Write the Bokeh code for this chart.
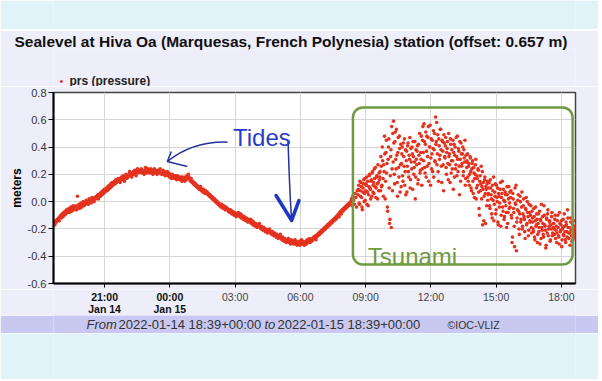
import pandas as pd
from bokeh.plotting import figure
from bokeh.models import Range1d, FixedTicker, PrintfTickFormatter, Label, BoxAnnotation
from bokeh.layouts import column
from bokeh.embed import file_html
from bokeh.resources import INLINE

# ---------------- data (sea level, metres) -------------
start_time = "2022-01-14 18:39"
end_time = "2022-01-15 18:39"
odd_start = "2022-01-15 08:40"   # extra interleaved readings during the tsunami

# even readings, every 2 minutes from 18:39, one list per hour
h00 = [-0.16,-0.15,-0.17,-0.14,-0.15,-0.13,-0.14,-0.12,-0.14,-0.11,-0.10,-0.12,-0.09,-0.11,-0.08,-0.10,-0.07,-0.09,-0.06,-0.08,-0.07,-0.05,-0.08,-0.06,-0.04,-0.07,-0.05,-0.03,-0.06,-0.04]
h01 = [-0.05,-0.03,-0.06,0.04,-0.04,-0.02,-0.05,-0.03,-0.01,-0.04,-0.02,0.00,-0.03,-0.01,-0.02,0.01,-0.01,0.00,-0.02,0.02,0.00,0.01,-0.01,0.03,0.01,0.02,0.00,0.03,0.02,0.04]
h02 = [0.03,0.05,0.02,0.04,0.06,0.04,0.07,0.05,0.08,0.06,0.09,0.07,0.08,0.10,0.08,0.11,0.09,0.12,0.10,0.13,0.11,0.14,0.12,0.13,0.15,0.13,0.16,0.14,0.15,0.17]
h03 = [0.15,0.17,0.14,0.16,0.18,0.16,0.19,0.17,0.15,0.18,0.20,0.17,0.19,0.18,0.20,0.22,0.19,0.21,0.18,0.20,0.22,0.20,0.23,0.21,0.19,0.22,0.24,0.21,0.23,0.22]
h04 = [0.22,0.24,0.21,0.23,0.22,0.20,0.23,0.25,0.22,0.21,0.24,0.22,0.23,0.21,0.24,0.22,0.23,0.20,0.22,0.24,0.21,0.23,0.22,0.20,0.23,0.21,0.22,0.24,0.21,0.20]
h05 = [0.21,0.23,0.20,0.22,0.19,0.21,0.20,0.22,0.19,0.21,0.18,0.20,0.19,0.17,0.20,0.18,0.19,0.17,0.19,0.18,0.16,0.19,0.17,0.18,0.16,0.18,0.17,0.15,0.18,0.16]
h06 = [0.17,0.15,0.18,0.16,0.19,0.17,0.20,0.18,0.16,0.15,0.17,0.14,0.15,0.13,0.14,0.12,0.13,0.11,0.12,0.10,0.11,0.09,0.10,0.11,0.08,0.09,0.07,0.09,0.08,0.06]
h07 = [0.08,0.06,0.07,0.05,0.06,0.04,0.05,0.03,0.04,0.02,0.03,0.01,0.02,0.00,0.01,-0.01,0.00,-0.02,-0.01,-0.03,-0.02,-0.04,-0.02,-0.03,-0.05,-0.03,-0.04,-0.06,-0.04,-0.05]
h08 = [-0.05,-0.07,-0.06,-0.08,-0.06,-0.07,-0.09,-0.07,-0.08,-0.10,-0.08,-0.09,-0.11,-0.09,-0.10,-0.08,-0.10,-0.11,-0.09,-0.12,-0.10,-0.11,-0.13,-0.11,-0.12,-0.14,-0.12,-0.13,-0.15,-0.13]
h09 = [-0.14,-0.15,-0.13,-0.16,-0.14,-0.17,-0.15,-0.16,-0.18,-0.16,-0.17,-0.19,-0.17,-0.18,-0.16,-0.19,-0.20,-0.18,-0.19,-0.21,-0.19,-0.20,-0.22,-0.20,-0.21,-0.23,-0.21,-0.22,-0.20,-0.23]
h10 = [-0.22,-0.24,-0.22,-0.23,-0.25,-0.23,-0.24,-0.26,-0.24,-0.25,-0.27,-0.25,-0.26,-0.24,-0.27,-0.28,-0.26,-0.27,-0.29,-0.27,-0.28,-0.30,-0.28,-0.29,-0.27,-0.30,-0.29,-0.31,-0.28,-0.30]
h11 = [-0.29,-0.31,-0.30,-0.28,-0.31,-0.29,-0.32,-0.30,-0.31,-0.29,-0.32,-0.30,-0.28,-0.31,-0.29,-0.30,-0.32,-0.30,-0.29,-0.31,-0.28,-0.30,-0.29,-0.27,-0.30,-0.28,-0.29,-0.27,-0.28,-0.26]
h12 = [-0.27,-0.25,-0.28,-0.26,-0.24,-0.25,-0.23,-0.24,-0.22,-0.23,-0.21,-0.22,-0.20,-0.21,-0.19,-0.20,-0.18,-0.19,-0.17,-0.18,-0.16,-0.17,-0.15,-0.16,-0.14,-0.15,-0.13,-0.14,-0.12,-0.13]
h13 = [-0.11,-0.12,-0.10,-0.09,-0.11,-0.08,-0.07,-0.09,-0.06,-0.07,-0.05,-0.06,-0.04,-0.05,-0.03,-0.04,-0.02,-0.03,-0.01,-0.02,0.00,0.02,-0.03,0.04,0.01,-0.02,0.06,0.03,-0.04,0.08]
h14 = [0.05,0.12,-0.02,0.08,0.14,0.03,-0.06,0.10,0.16,0.06,0.01,0.13,0.18,0.07,-0.03,0.11,0.20,0.09,0.15,0.04,0.22,0.12,0.06,0.17,0.25,0.10,0.19,0.02,0.14,0.21]
h15 = [0.18,0.08,0.26,0.12,0.30,0.04,0.22,0.35,0.15,0.45,0.28,-0.07,0.40,0.10,-0.13,0.33,-0.19,0.24,0.50,0.59,0.20,0.44,0.31,0.53,0.14,0.36,0.25,0.48,0.07,0.42]
h16 = [0.28,0.40,0.15,0.33,0.46,0.22,0.05,0.37,0.26,0.43,0.18,0.31,0.10,0.39,0.24,0.35,0.44,0.20,0.29,0.02,0.38,0.27,0.41,0.16,0.34,0.50,0.23,0.31,0.12,0.45]
h17 = [0.36,0.57,0.25,0.42,0.18,0.48,0.33,0.55,0.28,0.40,0.12,0.46,0.35,0.22,0.52,0.38,0.30,0.62,0.44,0.27,0.49,0.15,0.41,0.34,0.53,0.26,0.45,0.37,0.08,0.43]
h18 = [0.32,0.47,0.20,0.39,0.28,0.50,0.35,0.14,0.42,0.30,0.24,0.45,0.36,0.18,0.40,0.27,0.33,0.48,0.22,0.37,0.05,0.31,0.43,0.26,0.35,0.19,0.38,0.29,0.12,0.34]
h19 = [0.25,0.35,0.15,0.28,0.20,0.32,0.10,0.24,0.30,0.06,0.21,0.17,0.27,0.02,0.19,0.12,0.23,-0.05,0.15,0.08,0.26,0.11,-0.17,0.14,0.04,0.18,-0.16,0.09,0.13,0.01]
h20 = [0.06,0.14,-0.05,0.10,0.02,-0.12,0.08,0.18,-0.02,0.04,-0.09,0.12,0.00,-0.15,0.06,-0.04,0.09,-0.18,0.03,0.15,-0.07,0.01,-0.11,0.07,-0.03,-0.19,0.05,-0.08,0.11,-0.01]
h21 = [-0.04,0.08,-0.12,-0.26,0.02,-0.08,-0.33,-0.01,0.12,-0.15,-0.06,0.05,-0.20,-0.09,0.00,-0.13,0.07,-0.18,-0.03,-0.11,-0.22,-0.05,0.03,-0.16,-0.08,-0.25,-0.02,-0.14,-0.10,-0.19]
h22 = [-0.07,-0.15,-0.22,-0.11,-0.28,-0.04,-0.17,-0.13,-0.24,-0.09,-0.19,-0.31,-0.14,-0.02,-0.21,-0.16,-0.26,-0.10,-0.18,-0.34,-0.12,-0.23,-0.06,-0.20,-0.15,-0.29,-0.17,-0.11,-0.25,-0.19]
h23 = [-0.16,-0.24,-0.10,-0.21,-0.30,-0.14,-0.19,-0.26,-0.08,-0.22,-0.17,-0.33,-0.20,-0.13,-0.25,-0.18,-0.28,-0.15,-0.22,-0.06,-0.19,-0.27,-0.23,-0.12,-0.21,-0.29,-0.17,-0.24,-0.20,-0.26]

# odd readings during the tsunami, every 2 minutes from 08:40
o14 = [0.09,-0.01,0.15,0.04,0.11,-0.04,0.07,0.13,0.00,0.17,0.08,0.12,-0.02,0.15,0.05,0.19,0.10,0.02,0.16,0.21,0.07,0.14,0.24,0.11,0.03,0.18,0.13,0.27,0.08,0.16]
o15 = [0.22,0.33,0.11,0.40,0.17,0.27,0.48,0.02,0.36,0.21,-0.04,0.31,0.46,-0.16,0.19,0.38,0.55,0.08,0.29,0.43,0.13,0.51,0.24,0.34,0.04,0.47,0.18,0.39,0.27,0.11]
o16 = [0.35,0.19,0.43,0.26,0.12,0.38,0.30,0.07,0.41,0.22,0.34,0.47,0.16,0.29,0.40,0.09,0.33,0.25,0.44,0.18,0.31,0.37,0.13,0.42,0.28,0.21,0.36,0.48,0.24,0.55]
o17 = [0.30,0.44,0.21,0.51,0.37,0.26,0.47,0.15,0.40,0.56,0.32,0.24,0.45,0.39,0.18,0.50,0.29,0.42,0.58,0.35,0.22,0.46,0.31,0.53,0.38,0.14,0.44,0.27,0.49,0.33]
o18 = [0.41,0.25,0.36,0.44,0.16,0.33,0.27,0.46,0.21,0.38,0.30,0.09,0.42,0.34,0.24,0.47,0.19,0.31,0.39,0.26,0.44,0.15,0.35,0.28,0.40,0.22,0.32,0.45,0.17,0.29]
o19 = [0.30,0.18,0.26,0.12,0.33,0.22,0.08,0.28,0.15,0.25,0.03,0.20,0.31,0.10,0.17,0.24,0.07,-0.10,0.19,0.13,0.02,0.22,0.09,-0.14,0.16,0.06,0.11,-0.03,0.15,0.05]
o20 = [0.10,-0.03,0.16,0.05,-0.09,0.12,0.01,-0.14,0.07,0.13,-0.06,0.03,0.10,-0.17,0.04,-0.01,0.14,-0.10,0.06,-0.04,0.09,-0.13,0.00,0.05,-0.08,0.11,-0.16,0.02,-0.05,0.07]
o21 = [0.03,-0.10,-0.30,0.06,-0.05,-0.18,0.10,-0.02,-0.36,-0.12,0.01,-0.07,-0.24,0.04,-0.15,-0.04,-0.20,-0.09,0.02,-0.13,-0.27,-0.06,-0.17,0.00,-0.11,-0.21,-0.08,-0.15,-0.03,-0.23]
o22 = [-0.12,-0.20,-0.05,-0.26,-0.14,-0.18,-0.09,-0.30,-0.16,-0.22,-0.07,-0.13,-0.27,-0.19,-0.11,-0.24,-0.03,-0.17,-0.21,-0.32,-0.13,-0.09,-0.25,-0.18,-0.14,-0.28,-0.20,-0.08,-0.23,-0.16]
o23 = [-0.20,-0.13,-0.27,-0.18,-0.23,-0.10,-0.25,-0.31,-0.16,-0.21,-0.14,-0.28,-0.19,-0.24,-0.09,-0.22,-0.30,-0.17,-0.26,-0.12,-0.23,-0.19,-0.32,-0.15,-0.25,-0.20,-0.28,-0.14,-0.22,-0.18]

y_ticks = [-0.6, -0.4, -0.2, 0.0, 0.2, 0.4, 0.6, 0.8]
tick_times = ["2022-01-14 21:00", "2022-01-15 00:00", "2022-01-15 03:00", "2022-01-15 06:00",
              "2022-01-15 09:00", "2022-01-15 12:00", "2022-01-15 15:00", "2022-01-15 18:00"]
tick_labels = ["21:00", "00:00", "03:00", "06:00", "09:00", "12:00", "15:00", "18:00"]
date_labels = ["Jan 14", "Jan 15", "", "", "", "", "", ""]

title_text = "Sealevel at Hiva Oa (Marquesas, French Polynesia) station (offset: 0.657 m)"
series_name = "prs (pressure)"
footer_parts = [("From", "italic"), ("2022-01-14 18:39+00:00", "normal"),
                ("to", "italic"), ("2022-01-15 18:39+00:00", "normal"),
                ("\u00a9IOC-VLIZ", "small")]

# ---------------- styling / layout ----------------
W = 598
BL, BR = 53, 23          # frame borders shared by every row (frame x: 53..575)
CYAN = "#e0f3f8"
PANEL = "#eeeefa"
BAND = "#c8c8f0"
RED = "#e4321f"
BLUE = "#2a3cc8"
NAVY = "#23329c"
GREEN = "#6f9a40"
FONT = "Liberation Sans"


def ms(s):
    return pd.Timestamp(s).value / 1e6


def bare(h, color, **kw):
    f = figure(width=W, height=h, toolbar_location=None, output_backend="svg",
               x_axis_location=None, y_axis_location=None,
               min_border_left=BL, min_border_right=BR, **kw)
    f.grid.visible = False
    f.outline_line_color = None
    f.background_fill_color = color
    f.border_fill_color = color
    return f


even_blocks = [h00, h01, h02, h03, h04, h05, h06, h07, h08, h09, h10, h11,
               h12, h13, h14, h15, h16, h17, h18, h19, h20, h21, h22, h23]
odd_blocks = [o14, o15, o16, o17, o18, o19, o20, o21, o22, o23]
even_vals = [v for b in even_blocks for v in b]
odd_vals = [v for b in odd_blocks for v in b]
times = list(pd.date_range(start_time, periods=len(even_vals), freq="2min")) + \
        list(pd.date_range(odd_start, periods=len(odd_vals), freq="2min"))
values = even_vals + odd_vals
xr = Range1d(ms(start_time), ms(end_time))

# ---- top cyan strip and the panel's dark top edge
top = bare(29, CYAN, x_range=Range1d(0, 1), y_range=Range1d(0, 1),
           min_border_top=0, min_border_bottom=0)
edge = bare(1, "#555555", x_range=Range1d(0, 1), y_range=Range1d(0, 1),
            min_border_top=0, min_border_bottom=0)

# ---- header: title + legend
hdr = bare(56, PANEL, x_range=Range1d(0, 1), y_range=Range1d(0, 1),
           min_border_top=0, min_border_bottom=0, title=title_text)
hdr.title.align = "left"
hdr.title.offset = -39
hdr.title.standoff = 0
hdr.title.padding = 0
hdr.title.text_font = FONT
hdr.title.text_font_size = "15.5px"
hdr.title.text_font_style = "bold"
hdr.title.text_color = "#111111"
hdr.add_layout(Label(x=8, y=6, x_units="screen", y_units="screen", text="\u2022",
                     text_align="center", text_baseline="middle", text_font=FONT,
                     text_font_size="11px", text_color=RED))
hdr.add_layout(Label(x=16, y=6, x_units="screen", y_units="screen", text=series_name,
                     text_align="left", text_baseline="middle", text_font=FONT,
                     text_font_size="12px", text_font_style="bold", text_color="#222222"))

# ---- main plot
p = figure(width=W, height=203, x_axis_type="datetime", x_range=xr,
           y_range=Range1d(-0.6, 0.8), toolbar_location=None, output_backend="svg",
           min_border_left=BL, min_border_right=BR, min_border_top=6, min_border_bottom=6)
p.background_fill_color = "white"
p.border_fill_color = PANEL
p.outline_line_color = "#444444"
p.outline_line_width = 1.5

p.xaxis.ticker = FixedTicker(ticks=[ms(t) for t in tick_times])
p.xaxis.major_label_text_font_size = "1px"
p.xaxis.major_label_text_color = None
p.xaxis.major_label_standoff = 0
p.xaxis.axis_line_width = 2
p.xaxis.axis_line_color = "black"
p.xaxis.major_tick_out = 4
p.xaxis.major_tick_in = 0
p.xaxis.minor_tick_out = 0
p.xaxis.minor_tick_in = 0
p.xaxis.major_tick_line_color = "black"

p.yaxis.ticker = FixedTicker(ticks=y_ticks)
p.yaxis.formatter = PrintfTickFormatter(format="%.1f")
p.yaxis.axis_line_width = 2
p.yaxis.axis_line_color = "black"
p.yaxis.major_tick_out = 5
p.yaxis.major_tick_in = 0
p.yaxis.minor_tick_out = 0
p.yaxis.minor_tick_in = 0
p.yaxis.major_tick_line_color = "black"
p.yaxis.major_label_standoff = 2
p.yaxis.major_label_text_font = FONT
p.yaxis.major_label_text_font_size = "11px"
p.yaxis.major_label_text_color = "#333333"
p.yaxis.axis_label = "meters"
p.yaxis.axis_label_text_font = FONT
p.yaxis.axis_label_text_font_style = "bold"
p.yaxis.axis_label_text_font_size = "12px"
p.yaxis.axis_label_text_color = "black"
p.yaxis.axis_label_standoff = 1

p.xgrid.grid_line_color = "#d6d6d6"
p.ygrid.grid_line_color = "#d6d6d6"

p.scatter(x=times, y=values, size=3.6, fill_color=RED, line_color=None)

# hand-drawn annotations
p.add_layout(Label(x=ms("2022-01-15 02:54"), y=0.47, text="Tides", text_align="left",
                   text_baseline="alphabetic", text_font=FONT, text_font_size="24px",
                   text_color=BLUE))
p.bezier(x0=[ms("2022-01-15 02:39")], y0=[0.436], x1=[ms("2022-01-14 23:53")], y1=[0.294],
         cx0=[ms("2022-01-15 01:38")], cy0=[0.441], cx1=[ms("2022-01-15 00:42")], cy1=[0.397],
         line_color=NAVY, line_width=1.5)
p.multi_line(xs=[[ms("2022-01-15 00:04"), ms("2022-01-14 23:53"), ms("2022-01-15 00:48")]],
             ys=[[0.368, 0.294, 0.258]], line_color=NAVY, line_width=1.5)
p.bezier(x0=[ms("2022-01-15 05:26")], y0=[0.448], x1=[ms("2022-01-15 05:36")], y1=[-0.138],
         cx0=[ms("2022-01-15 05:29")], cy0=[0.192], cx1=[ms("2022-01-15 05:32")], cy1=[0.008],
         line_color=NAVY, line_width=1.5)
p.multi_line(xs=[[ms("2022-01-15 04:53"), ms("2022-01-15 05:36"), ms("2022-01-15 05:56")]],
             ys=[[0.045, -0.138, 0.008]], line_color="#1e36c4", line_width=3.5,
             line_join="round", line_cap="round")
p.add_layout(BoxAnnotation(left=ms("2022-01-15 08:25"), right=ms("2022-01-15 18:31"),
                           top=0.69, bottom=-0.461, fill_color=None, fill_alpha=0,
                           line_color=GREEN, line_alpha=1.0, line_width=2.5,
                           border_radius=10))
p.add_layout(Label(x=ms("2022-01-15 09:06"), y=-0.402, text="Tsunami", text_align="left",
                   text_baseline="alphabetic", text_font=FONT, text_font_size="24px",
                   text_color=GREEN))

# ---- x tick labels row (shares the time range, same frame edges)
tk = bare(26, PANEL, x_range=xr, y_range=Range1d(0, 26),
          min_border_top=0, min_border_bottom=0)
for t, lab, d in zip(tick_times, tick_labels, date_labels):
    bold = d != ""
    tk.add_layout(Label(x=ms(t), y=19, text=lab, text_align="center", text_baseline="middle",
                        text_font=FONT, text_font_size="10.5px",
                        text_font_style="bold" if bold else "normal",
                        text_color="#111111" if bold else "#444444"))
    if d:
        tk.add_layout(Label(x=ms(t), y=7, text=d, text_align="center", text_baseline="middle",
                            text_font=FONT, text_font_size="10.5px", text_font_style="bold",
                            text_color="#111111"))

# ---- footer band
ft = bare(18, BAND, x_range=Range1d(BL, W - BR), y_range=Range1d(0, 18),
          min_border_top=0, min_border_bottom=0)
footer_x = [86, 118, 264, 277, 447]
for (txt, style), xx in zip(footer_parts, footer_x):
    ft.add_layout(Label(x=xx, y=9, text=txt, text_align="left", text_baseline="middle",
                        text_font=FONT,
                        text_font_size="10.5px" if style == "small" else "13px",
                        text_font_style="italic" if style == "italic" else "normal",
                        text_color="#333333"))

bottom = bare(46, CYAN, x_range=Range1d(0, 1), y_range=Range1d(0, 1),
              min_border_top=0, min_border_bottom=0)

layout = column(top, edge, hdr, p, tk, ft, bottom, spacing=0)

open("out.html", "w").write(file_html(layout, INLINE))
